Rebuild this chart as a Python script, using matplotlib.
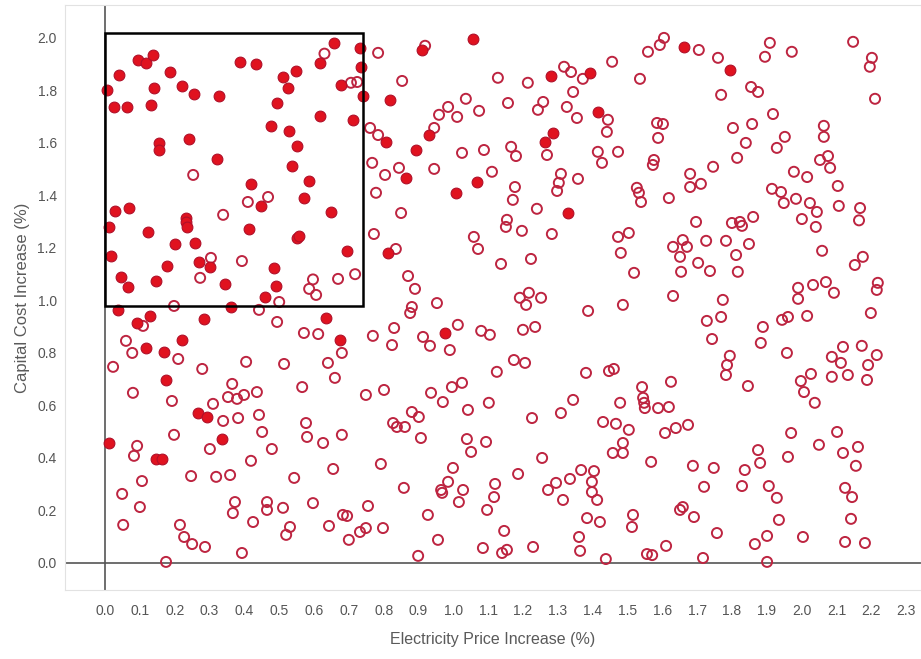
import numpy as np
import matplotlib
matplotlib.use('Agg')
from matplotlib import pyplot as plt
from matplotlib.patches import Rectangle

# (electricity price increase %, capital cost increase %)
filled_pts = np.array([
    (0.657, 1.98), (0.617, 1.905), (0.678, 1.82), (0.095, 1.916), (0.118, 1.905), (0.138, 1.935),
    (0.04, 1.86), (0.187, 1.87), (0.388, 1.91), (0.434, 1.90), (0.511, 1.85), (0.548, 1.874),
    (0.525, 1.81), (0.005, 1.80), (0.141, 1.81), (0.221, 1.817), (0.256, 1.787), (0.327, 1.78),
    (0.026, 1.737), (0.063, 1.737), (0.132, 1.745), (0.494, 1.752), (0.617, 1.703), (0.477, 1.665),
    (0.528, 1.646), (0.551, 1.59), (0.155, 1.60), (0.155, 1.573), (0.241, 1.615), (0.322, 1.539),
    (0.537, 1.512), (0.419, 1.444), (0.586, 1.455), (0.448, 1.36), (0.571, 1.39), (0.029, 1.341),
    (0.069, 1.352), (0.233, 1.314), (0.649, 1.337), (0.011, 1.28), (0.233, 1.30), (0.235, 1.28),
    (0.413, 1.272), (0.123, 1.26), (0.201, 1.215), (0.258, 1.219), (0.551, 1.238), (0.557, 1.246),
    (0.017, 1.17), (0.178, 1.131), (0.27, 1.147), (0.301, 1.128), (0.485, 1.124), (0.046, 1.09),
    (0.066, 1.051), (0.146, 1.074), (0.345, 1.063), (0.491, 1.055), (0.459, 1.013), (0.362, 0.975),
    (0.037, 0.964), (0.129, 0.941), (0.092, 0.914), (0.284, 0.93), (0.634, 0.933), (0.675, 0.85),
    (0.118, 0.819), (0.169, 0.804), (0.221, 0.85), (0.175, 0.697), (0.267, 0.571), (0.293, 0.556),
    (0.011, 0.457), (0.146, 0.396), (0.163, 0.396), (0.336, 0.472),
    (0.732, 1.962), (0.735, 1.89), (0.741, 1.779), (0.712, 1.688), (0.818, 1.764), (0.91, 1.954),
    (1.057, 1.996), (1.28, 1.855), (1.392, 1.867), (1.415, 1.718), (0.93, 1.63), (0.807, 1.604),
    (0.893, 1.573), (1.263, 1.604), (1.286, 1.638), (0.864, 1.467), (1.068, 1.451), (1.008, 1.41),
    (1.329, 1.333), (0.695, 1.189), (0.812, 1.181), (0.976, 0.876), (1.662, 1.966), (1.794, 1.878),
])

hollow_pts = np.array([
    (0.63, 1.94), (0.253, 1.478), (0.41, 1.375), (0.468, 1.394), (0.339, 1.326),
    (0.304, 1.162), (0.393, 1.15), (0.273, 1.086), (0.597, 1.08), (0.586, 1.044), (0.606, 1.021),
    (0.669, 1.082), (0.5, 0.994), (0.442, 0.964), (0.198, 0.979), (0.109, 0.903), (0.494, 0.918),
    (0.571, 0.876), (0.612, 0.872), (0.68, 0.80), (0.06, 0.846), (0.078, 0.80), (0.21, 0.777),
    (0.023, 0.747), (0.279, 0.739), (0.405, 0.766), (0.514, 0.758), (0.64, 0.762), (0.66, 0.705),
    (0.365, 0.682), (0.566, 0.67), (0.08, 0.648), (0.353, 0.632), (0.379, 0.625), (0.399, 0.64),
    (0.436, 0.651), (0.192, 0.617), (0.31, 0.606),
    (0.339, 0.541), (0.382, 0.552), (0.442, 0.564), (0.577, 0.533), (0.58, 0.48), (0.451, 0.499),
    (0.198, 0.488), (0.092, 0.446), (0.083, 0.408), (0.301, 0.434), (0.479, 0.434), (0.626, 0.457),
    (0.68, 0.488), (0.419, 0.389), (0.106, 0.312), (0.247, 0.331), (0.319, 0.328), (0.359, 0.335),
    (0.543, 0.324), (0.655, 0.358), (0.049, 0.263), (0.1, 0.213), (0.373, 0.232), (0.367, 0.19),
    (0.465, 0.232), (0.465, 0.202), (0.511, 0.21), (0.597, 0.228), (0.052, 0.145), (0.215, 0.145),
    (0.227, 0.099), (0.25, 0.072), (0.287, 0.061), (0.425, 0.156), (0.531, 0.137), (0.52, 0.107),
    (0.643, 0.141), (0.683, 0.183), (0.175, 0.004), (0.393, 0.038),
    (0.784, 1.943), (0.706, 1.829), (0.724, 1.832), (0.853, 1.836), (0.919, 1.97), (1.128, 1.848),
    (1.214, 1.829), (1.318, 1.89), (1.338, 1.87), (1.372, 1.844), (1.456, 1.909), (1.344, 1.794),
    (1.258, 1.756), (1.243, 1.726), (1.326, 1.737), (1.355, 1.695), (1.444, 1.688), (1.441, 1.642),
    (1.157, 1.752), (1.074, 1.722), (1.036, 1.768), (0.985, 1.737), (0.959, 1.707), (1.011, 1.699),
    (0.945, 1.657), (0.761, 1.657), (0.784, 1.63), (1.025, 1.562), (1.088, 1.573), (1.166, 1.585),
    (1.18, 1.55), (1.269, 1.554), (1.415, 1.566), (1.427, 1.524), (1.473, 1.566), (0.767, 1.524),
    (0.804, 1.478), (0.844, 1.505), (0.945, 1.501), (1.111, 1.49), (0.778, 1.41), (0.85, 1.333),
    (1.177, 1.432), (1.171, 1.383), (1.309, 1.482), (1.303, 1.448), (1.298, 1.417), (1.358, 1.463),
    (1.24, 1.349), (1.154, 1.307),
    (0.718, 1.10), (0.772, 1.253), (0.835, 1.196), (0.87, 1.093), (0.89, 1.044), (0.881, 0.975),
    (0.876, 0.952), (0.953, 0.99), (1.059, 1.242), (1.071, 1.196), (1.151, 1.28), (1.197, 1.265),
    (1.283, 1.253), (1.137, 1.139), (1.223, 1.158), (1.191, 1.01), (1.217, 1.029), (1.209, 0.983),
    (1.252, 1.01), (1.387, 0.96), (1.473, 1.242), (1.481, 1.181), (1.487, 0.983), (0.769, 0.865),
    (0.83, 0.895), (0.824, 0.83), (0.913, 0.861), (0.933, 0.827), (1.013, 0.907), (0.99, 0.811),
    (1.08, 0.884), (1.105, 0.869), (1.2, 0.888), (1.235, 0.899), (1.174, 0.773), (1.206, 0.762),
    (1.125, 0.728), (1.381, 0.724), (1.447, 0.731), (1.461, 0.739), (0.749, 0.64), (0.801, 0.659),
    (0.936, 0.648), (0.97, 0.613), (0.996, 0.67), (1.025, 0.686), (1.102, 0.61), (1.344, 0.621),
    (1.479, 0.61),
    (1.042, 0.583), (1.226, 0.552), (1.309, 0.571), (1.43, 0.537), (1.467, 0.53), (1.487, 0.457),
    (1.487, 0.419), (1.458, 0.419), (0.827, 0.533), (0.838, 0.518), (0.861, 0.518), (0.881, 0.575),
    (0.901, 0.556), (0.907, 0.476), (1.039, 0.472), (1.051, 0.423), (1.094, 0.461), (1.255, 0.4),
    (0.792, 0.377), (0.999, 0.362), (0.985, 0.309), (0.968, 0.267), (0.965, 0.278), (1.028, 0.278),
    (1.016, 0.232), (1.12, 0.301), (1.117, 0.251), (1.097, 0.202), (1.186, 0.339), (1.272, 0.278),
    (1.295, 0.305), (1.335, 0.32), (1.367, 0.354), (1.404, 0.35), (1.398, 0.309), (1.398, 0.27),
    (1.413, 0.24), (1.315, 0.24), (0.858, 0.286), (0.755, 0.217), (0.695, 0.179), (0.927, 0.183),
    (0.798, 0.133), (0.732, 0.118), (0.749, 0.133), (0.7, 0.088), (0.956, 0.088), (1.146, 0.122),
    (1.085, 0.057), (1.14, 0.038), (1.154, 0.05), (1.229, 0.061), (1.384, 0.171), (1.421, 0.156),
    (1.361, 0.099), (1.364, 0.046), (0.899, 0.027), (1.438, 0.015),
    (1.559, 1.947), (1.593, 1.973), (1.605, 2.0), (1.705, 1.954), (1.76, 1.924), (1.536, 1.844),
    (1.769, 1.783), (1.855, 1.813), (1.875, 1.794), (1.909, 1.981), (1.895, 1.928), (1.972, 1.947),
    (2.148, 1.985), (2.202, 1.924), (2.196, 1.89), (2.211, 1.768), (1.918, 1.71), (1.585, 1.676),
    (1.602, 1.672), (1.588, 1.619), (1.803, 1.657), (1.858, 1.672), (1.84, 1.6), (1.815, 1.543),
    (1.952, 1.623), (1.929, 1.581), (2.064, 1.665), (2.064, 1.623), (2.053, 1.535), (2.076, 1.55),
    (2.082, 1.505), (1.576, 1.535), (1.573, 1.516), (1.746, 1.509), (1.68, 1.482), (1.68, 1.432),
    (1.711, 1.444), (1.527, 1.429), (1.533, 1.41), (1.539, 1.375), (1.619, 1.39), (1.978, 1.49),
    (2.016, 1.47), (2.104, 1.436), (1.915, 1.425), (1.941, 1.413), (1.949, 1.371), (1.984, 1.387),
    (2.024, 1.371), (2.044, 1.337), (2.107, 1.36), (2.168, 1.352),
    (1.697, 1.299), (1.8, 1.295), (1.823, 1.299), (1.829, 1.284), (1.861, 1.318), (2.001, 1.31),
    (2.041, 1.28), (2.165, 1.305), (1.504, 1.257), (1.519, 1.105), (1.631, 1.204), (1.659, 1.23),
    (1.671, 1.204), (1.651, 1.166), (1.654, 1.109), (1.726, 1.227), (1.783, 1.227), (1.703, 1.143),
    (1.737, 1.112), (1.812, 1.173), (1.817, 1.109), (1.849, 1.215), (2.059, 1.189), (2.153, 1.135),
    (2.176, 1.166), (1.631, 1.017), (1.774, 1.002), (1.769, 0.937), (1.728, 0.922), (1.743, 0.853),
    (1.99, 1.048), (1.99, 1.006), (2.033, 1.059), (2.07, 1.07), (2.093, 1.029), (2.219, 1.067),
    (2.216, 1.04), (2.199, 0.952), (2.016, 0.941), (1.944, 0.926), (1.961, 0.937), (1.889, 0.899),
    (1.883, 0.838), (1.958, 0.80), (1.794, 0.789), (1.786, 0.754), (1.783, 0.716), (2.087, 0.785),
    (2.119, 0.823), (2.113, 0.762), (2.173, 0.827), (2.216, 0.792), (2.191, 0.754), (2.133, 0.716),
    (2.188, 0.697), (2.087, 0.709), (2.027, 0.72), (1.998, 0.693), (2.007, 0.651), (1.846, 0.674),
    (1.625, 0.69), (1.542, 0.67), (1.545, 0.629), (1.548, 0.61), (2.038, 0.61),
    (1.55, 0.59), (1.588, 0.59), (1.619, 0.594), (1.504, 0.507), (1.608, 0.495), (1.639, 0.514),
    (1.674, 0.526), (1.568, 0.385), (1.688, 0.37), (1.748, 0.362), (1.72, 0.29), (1.837, 0.354),
    (1.829, 0.293), (1.875, 0.43), (1.881, 0.381), (1.97, 0.495), (1.961, 0.404), (2.05, 0.45),
    (2.102, 0.499), (2.119, 0.419), (2.162, 0.442), (2.156, 0.37), (1.906, 0.293), (1.929, 0.248),
    (2.125, 0.286), (2.145, 0.251), (1.935, 0.164), (2.142, 0.168), (1.516, 0.183), (1.513, 0.137),
    (1.651, 0.202), (1.659, 0.213), (1.691, 0.175), (1.611, 0.065), (1.556, 0.034), (1.571, 0.03),
    (1.757, 0.114), (1.717, 0.019), (1.866, 0.072), (1.901, 0.103), (1.901, 0.004), (2.004, 0.099),
    (2.125, 0.08), (2.182, 0.076),
])

# highlighted region (x from 0 to 0.74, y from 0.98 to 2.02)
box_x = [0.0, 0.74]
box_y = [0.98, 2.02]

x_ticks = np.round(np.arange(0, 2.31, 0.1), 1)
y_ticks = np.round(np.arange(0, 2.01, 0.2), 1)

plt.rcParams['font.family'] = ['Liberation Sans', 'DejaVu Sans']

fig = plt.figure(figsize=(9.21, 6.59), dpi=100)
ax = fig.add_axes([0.0706, 0.1047, 0.9294, 0.888])

ax.scatter(hollow_pts[:, 0], hollow_pts[:, 1], s=52, facecolors='none',
           edgecolors='#bd2440', linewidths=1.4, zorder=3)
ax.scatter(filled_pts[:, 0], filled_pts[:, 1], s=60, color='#e0121f',
           edgecolors='#b00f28', linewidths=0.8, zorder=4)

ax.add_patch(Rectangle((box_x[0], box_y[0]), box_x[1] - box_x[0], box_y[1] - box_y[0],
                       fill=False, edgecolor='black', linewidth=1.8, zorder=5))

ax.axhline(0, color='#555555', linewidth=1.2, zorder=2)
ax.axvline(0, color='#555555', linewidth=1.2, zorder=2)

ax.set_xlim(-0.115, 2.343)
ax.set_ylim(-0.103, 2.126)
ax.set_xticks(x_ticks)
ax.set_yticks(y_ticks)
ax.set_xticklabels([f'{t:.1f}' for t in x_ticks])
ax.set_yticklabels([f'{t:.1f}' for t in y_ticks])
ax.tick_params(length=0, labelsize=10, labelcolor='#555555')
ax.tick_params(axis='x', pad=10)
ax.tick_params(axis='y', pad=6)

for side in ['left', 'bottom', 'top', 'right']:
    ax.spines[side].set_color('#e2e2e2')
    ax.spines[side].set_linewidth(0.8)

ax.set_xlabel('Electricity Price Increase (%)', fontsize=11.5, color='#5a5a5a', labelpad=10)
ax.set_ylabel('Capital Cost Increase (%)', fontsize=12, color='#5a5a5a', labelpad=5)

fig.savefig('out.png', dpi=100)
